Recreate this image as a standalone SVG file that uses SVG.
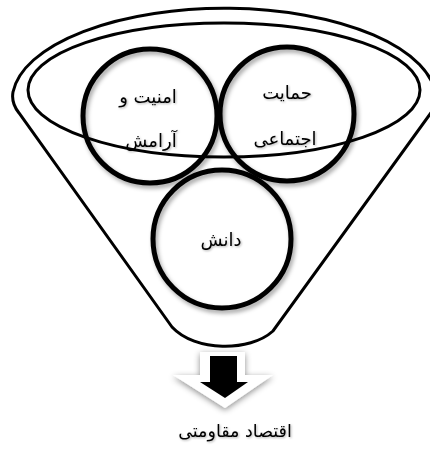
<svg xmlns="http://www.w3.org/2000/svg" width="430" height="456" viewBox="0 0 430 456">
<style>
.line{fill:none;stroke:#000;stroke-width:3}
.circ{fill:none;stroke:#000;stroke-width:5;filter:url(#sh)}
.t{font-family:"DejaVu Sans",sans-serif;font-size:18px;fill:#000;text-anchor:middle;filter:url(#tsh)}
</style>
<defs>
<filter id="sh" x="-20%" y="-20%" width="140%" height="140%">
<feDropShadow dx="2" dy="3" stdDeviation="2" flood-color="#000" flood-opacity="0.35"/>
</filter>
<filter id="tsh" x="-20%" y="-30%" width="140%" height="160%">
<feDropShadow dx="1" dy="1" stdDeviation="1" flood-color="#000" flood-opacity="0.3"/>
</filter>
<filter id="ash" x="-30%" y="-30%" width="160%" height="160%">
<feDropShadow dx="0" dy="2" stdDeviation="3" flood-color="#000" flood-opacity="0.45"/>
</filter>
</defs>
<rect width="430" height="456" fill="#fff"/>
<g id="funnel">
<path class="line" d="M172,327 L19,113 Q11,103 13,92 A212 92 0 0 1 436,97 Q438,103 433,110 L273,331 C250,352 195,352 172,327 Z"/>
<ellipse class="line" cx="224" cy="90" rx="196" ry="67"/>
</g>
<g id="node-amniat">
<circle class="circ" cx="150" cy="116" r="67"/>
<text class="t" x="148" y="103">امنیت و</text>
<text class="t" x="151" y="147">آرامش</text>
</g>
<g id="node-hemayat">
<circle class="circ" cx="287" cy="114" r="67"/>
<text class="t" x="287" y="99">حمایت</text>
<text class="t" x="285" y="145">اجتماعی</text>
</g>
<g id="node-danesh">
<circle class="circ" cx="222" cy="239" r="69"/>
<text class="t" x="221" y="246">دانش</text>
</g>
<g id="connectors">
<path d="M200,352 L245,352 L245,375 L273,375 L225,408 L173,375 L200,375 Z" fill="#fff" filter="url(#ash)"/>
<path d="M210,356 L237,356 L237,382 L248,382 L225,398 L200,382 L210,382 Z" fill="#000"/>
</g>
<g id="label-result">
<text class="t" x="235" y="437" style="font-size:17.5px">اقتصاد مقاومتی</text>
</g>
</svg>
